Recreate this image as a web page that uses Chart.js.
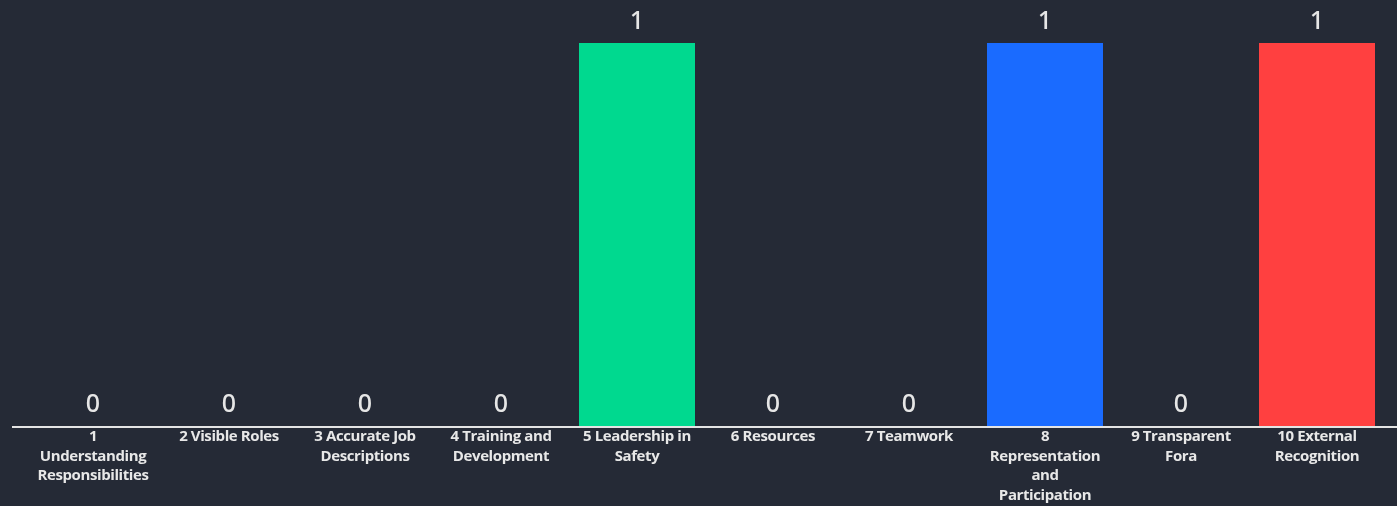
<!DOCTYPE html>
<html>
<head>
<meta charset="utf-8">
<script src="https://cdn.jsdelivr.net/npm/chart.js@4"></script>
<style>
html,body{margin:0;padding:0;background:#252a36;}
#wrap{width:1397px;height:506px;position:relative;}
</style>
</head>
<body>
<div id="wrap"><canvas id="c"></canvas></div>
<script>
const categories = [
  ["1", "Understanding", "Responsibilities"],
  ["2 Visible Roles"],
  ["3 Accurate Job", "Descriptions"],
  ["4 Training and", "Development"],
  ["5 Leadership in", "Safety"],
  ["6 Resources"],
  ["7 Teamwork"],
  ["8", "Representation", "and", "Participation"],
  ["9 Transparent", "Fora"],
  ["10 External", "Recognition"]
];
const values = [0, 0, 0, 0, 1, 0, 0, 1, 0, 1];
const barColors = ["#00d98f","#00d98f","#00d98f","#00d98f","#00d98f","#00d98f","#00d98f","#1a6bff","#00d98f","#ff4040"];

const valueLabels = {
  id: 'valueLabels',
  afterDatasetsDraw(chart) {
    const ctx = chart.ctx;
    const meta = chart.getDatasetMeta(0);
    ctx.save();
    ctx.letterSpacing = '0px';
    ctx.font = '500 25px "Noto Sans", "Open Sans", sans-serif';
    ctx.fillStyle = '#e6e6e6';
    ctx.textAlign = 'center';
    ctx.textBaseline = 'middle';
    meta.data.forEach((el, i) => {
      ctx.fillText(String(values[i]), el.x, el.y - 21);
    });
    ctx.restore();
  }
};
const axisLine = {
  id: 'axisLine',
  beforeInit(chart) {
    chart.ctx.letterSpacing = '-0.4px';
  },
  beforeDraw(chart) {
    chart.ctx.letterSpacing = '-0.4px';
  },
  afterDatasetsDraw(chart) {
    const ctx = chart.ctx;
    const y = chart.chartArea.bottom + 1;
    ctx.save();
    ctx.strokeStyle = '#e4e4e4';
    ctx.lineWidth = 2;
    ctx.beginPath();
    ctx.moveTo(12, y);
    ctx.lineTo(chart.width, y);
    ctx.stroke();
    ctx.restore();
  }
};

new Chart(document.getElementById('c'), {
  type: 'bar',
  data: {
    labels: categories,
    datasets: [{
      data: values,
      backgroundColor: barColors,
      borderWidth: 0,
      barPercentage: 1,
      categoryPercentage: 0.853
    }]
  },
  options: {
    responsive: true,
    maintainAspectRatio: false,
    animation: false,
    layout: { padding: { top: 43, left: 25, right: 12, bottom: 0 } },
    plugins: { legend: { display: false }, tooltip: { enabled: false } },
    scales: {
      x: {
        grid: { display: false, drawTicks: false },
        border: { display: false },
        ticks: {
          color: '#e8e8e8',
          padding: 1,
          maxRotation: 0,
          autoSkip: false,
          font: { family: '"Open Sans", sans-serif', size: 15, weight: 'bold', lineHeight: '19.5px' }
        }
      },
      y: {
        display: false,
        min: 0,
        max: 1
      }
    }
  },
  plugins: [valueLabels, axisLine]
});
</script>
</body>
</html>
